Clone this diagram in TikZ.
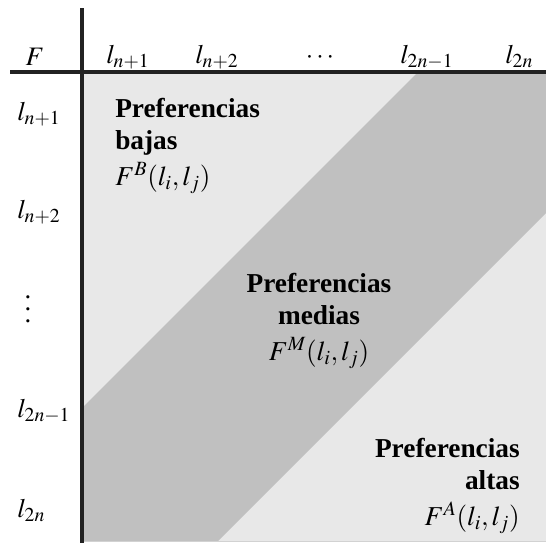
\documentclass[tikz,border=0pt]{standalone}
\usepackage{mathptmx}
\usepackage{fontspec}
\setmainfont{Liberation Serif}
\usepackage{xcolor}
\usepackage{tikz}

\definecolor{fondo}{HTML}{E8E8E8}
\definecolor{banda}{HTML}{C0C0C0}
\definecolor{eje}{HTML}{222222}

\begin{document}
\begin{tikzpicture}[x=0.75pt, y=-0.75pt,
    etiq/.style={inner sep=0, font=\fontsize{20}{24}\selectfont},
    bloque/.style={inner sep=0, font=\fontsize{20.5}{24}\selectfont\bfseries}]
    \useasboundingbox (0,0) rectangle (546,543);
    \fill[fondo] (83,73) rectangle (546,541);
    \fill[banda] (417,73) -- (546,73) -- (546,213) -- (218,541) -- (83,541) -- (83,407) -- cycle;
    \draw[gray!35] (83,541) -- (546,541);
    \draw[eje, line width=2.5pt] (82,8) -- (82,543);
    \draw[eje, line width=2.5pt] (10,72) -- (546,72);
    % cabecera
    \node[etiq, anchor=base] (f) at (35,65) {$F$};
    \node[etiq, anchor=base west] (c1) at (106,63) {$l_{n+1}$};
    \node[etiq, anchor=base west] (c2) at (195,63) {$l_{n+2}$};
    \node[etiq, anchor=base] (c3) at (320,63) {$\cdots$};
    \node[etiq, anchor=base west] (c4) at (400,63) {$l_{2n-1}$};
    \node[etiq, anchor=base west] (c5) at (505,63) {$l_{2n}$};
    % filas
    \node[etiq, anchor=base west] (r1) at (17,120) {$l_{n+1}$};
    \node[etiq, anchor=base west] (r2) at (17,218) {$l_{n+2}$};
    \node[etiq, align=center, font=\fontsize{20}{9}\selectfont] (r3) at (28,309) {.\\.\\.};
    \node[etiq, anchor=base west] (r4) at (17,417) {$l_{2n-1}$};
    \node[etiq, anchor=base west] (r5) at (17,517) {$l_{2n}$};
    % zonas
    \node[bloque, anchor=north west, align=left] (bajas) at (115,98)
      {Preferencias\\bajas\\[3pt]$F^B(l_i,l_j)$};
    \node[bloque, anchor=north, align=center] (medias) at (319,273)
      {Preferencias\\medias\\[3pt]$F^M(l_i,l_j)$};
    \node[bloque, anchor=north east, align=right] (altas) at (520,438)
      {Preferencias\\altas\\[3pt]$F^A(l_i,l_j)$};
\end{tikzpicture}
\end{document}
